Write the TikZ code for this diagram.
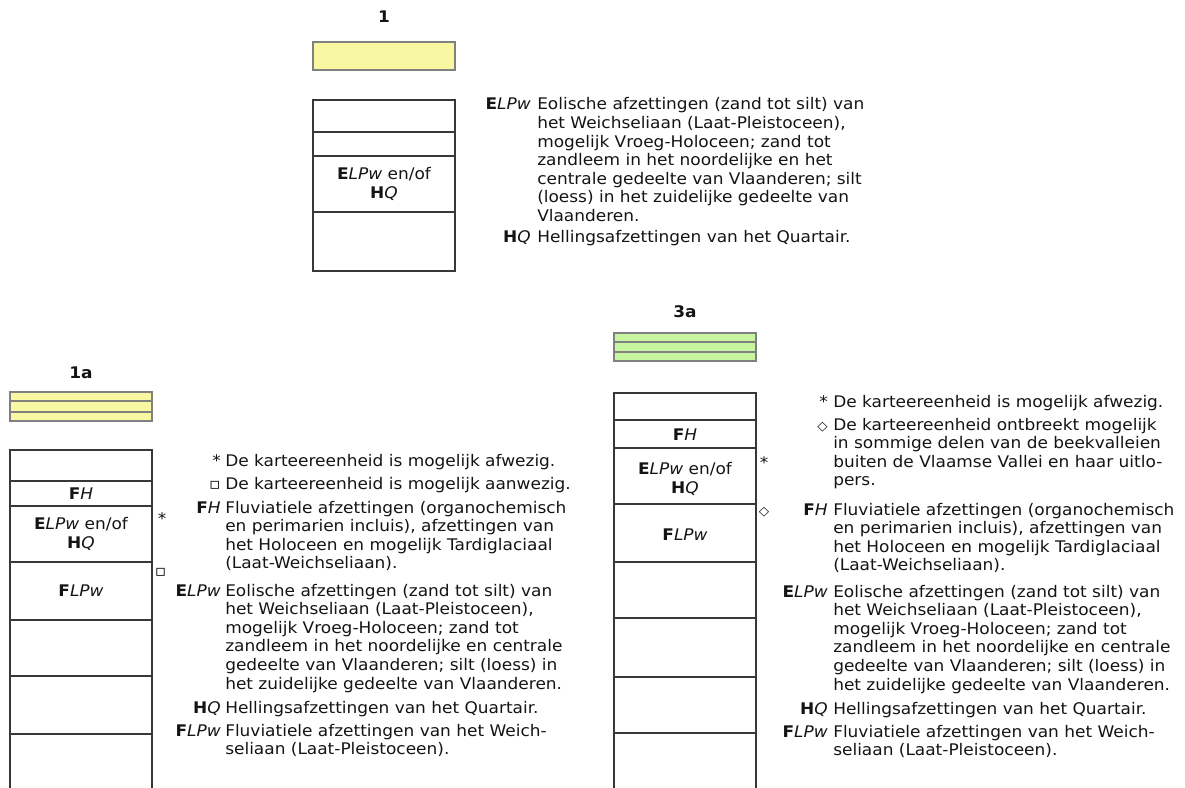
\documentclass[tikz,border=0pt]{standalone}
\usepackage{fontspec}
\setmainfont{DejaVu Sans}[FakeStretch=1.06]
\usetikzlibrary{positioning}
\definecolor{kYellow}{HTML}{F8F8A2}
\definecolor{kGreen}{HTML}{C8F5A0}
\definecolor{kLine}{HTML}{383838}
\definecolor{kEdge}{HTML}{808080}
\definecolor{kText}{HTML}{141414}
\newcommand{\legfont}{\fontsize{12}{13.95}\selectfont}
\newcommand{\ELPw}{\textbf{E}\textit{LPw}}
\newcommand{\HQ}{\textbf{H}\textit{Q}}
\newcommand{\FH}{\textbf{F}\textit{H}}
\newcommand{\FLPw}{\textbf{F}\textit{LPw}}
\newcommand{\sqkey}{▫}
\newcommand{\diakey}{{\fontsize{9.5}{9.5}\selectfont ◇}}
\newcommand{\lines}[1]{\begin{tabular}[t]{@{}l@{}}#1\end{tabular}}
\newcommand{\txtELPw}{Eolische afzettingen (zand tot silt) van\\het Weichseliaan (Laat-Pleistoceen),\\mogelijk Vroeg-Holoceen; zand tot\\zandleem in het noordelijke en centrale\\gedeelte van Vlaanderen; silt (loess) in\\het zuidelijke gedeelte van Vlaanderen.}
\newcommand{\txtFH}{Fluviatiele afzettingen (organochemisch\\en perimarien incluis), afzettingen van\\het Holoceen en mogelijk Tardiglaciaal\\(Laat-Weichseliaan).}
\newcommand{\txtHQ}{Hellingsafzettingen van het Quartair.}
\newcommand{\txtFLPw}{Fluviatiele afzettingen van het Weich-\\seliaan (Laat-Pleistoceen).}
\tikzset{
  colline/.style={draw=kLine, line width=1pt},
  barbox/.style={draw=kEdge, line width=0.9pt},
  coltitle/.style={font=\fontsize{12}{14}\selectfont\bfseries, text=kText, inner sep=0},
  celllbl/.style={align=center, font=\legfont, text=kText, inner sep=0},
  flagkey/.style={font=\legfont, text=kText, inner sep=0},
  keylbl/.style={anchor=base east, font=\legfont, text=kText, inner sep=0},
  legtxt/.style={anchor=base west, font=\legfont, text=kText, inner sep=0},
}

\begin{document}
\begin{tikzpicture}[x=0.75pt, y=-0.75pt]
  \useasboundingbox (0,0) rectangle (1185,788);

  % --- kolom 1 ---
  \node[coltitle] (t1) at (384,17) {1};
  \draw[barbox, fill=kYellow] (313,42) rectangle (455,70);
  \foreach \t/\b in {100/132, 132/156, 156/212, 212/271}
    \draw[colline] (313,\t) rectangle (455,\b);
  \node[celllbl] (c1elpw) at (384,184) {\ELPw{} en/of\\\HQ};

  \foreach \y/\k/\txt/\nm in {
     110/{\ELPw}/{Eolische afzettingen (zand tot silt) van\\het Weichseliaan (Laat-Pleistoceen),\\mogelijk Vroeg-Holoceen; zand tot\\zandleem in het noordelijke en het\\centrale gedeelte van Vlaanderen; silt\\(loess) in het zuidelijke gedeelte van\\Vlaanderen.}/elpw,
     243/{\HQ}/{\txtHQ}/hq}{
     \node[keylbl] (k1\nm) at (531,\y) {\k};
     \node[legtxt] (l1\nm) at (537,\y) {\lines{\txt}};
  }

  % --- kolom 1a ---
  \node[coltitle] (t1a) at (81,373) {1a};
  \draw[barbox, fill=kYellow] (10,392) rectangle (152,421);
  \draw[barbox] (10,401) -- (152,401) (10,412) -- (152,412);
  \foreach \t/\b in {450/481, 481/506, 506/562, 562/620, 620/676, 676/734}
    \draw[colline] (10,\t) rectangle (152,\b);
  \draw[colline] (10,734) -- (10,788) (152,734) -- (152,788);
  \node[celllbl] (c1afh) at (81,493.5) {\FH};
  \node[celllbl] (c1aelpw) at (81,534) {\ELPw{} en/of\\\HQ};
  \node[celllbl] (c1aflpw) at (81,591) {\FLPw};
  \node[flagkey] (f1astar) at (162,519) {*};
  \node[flagkey] (f1asq) at (160.5,572) {\sqkey};

  \foreach \y/\k/\txt/\nm in {
     466/{*}/{De karteereenheid is mogelijk afwezig.}/star,
     489/{\sqkey}/{De karteereenheid is mogelijk aanwezig.}/sq,
     513/{\FH}/{\txtFH}/fh,
     596/{\ELPw}/{\txtELPw}/elpw,
     713/{\HQ}/{\txtHQ}/hq,
     736/{\FLPw}/{\txtFLPw}/flpw}{
     \node[keylbl] (k1a\nm) at (221,\y) {\k};
     \node[legtxt] (l1a\nm) at (225,\y) {\lines{\txt}};
  }

  % --- kolom 3a ---
  \node[coltitle] (t3a) at (685,312) {3a};
  \draw[barbox, fill=kGreen] (614,333) rectangle (756,361);
  \draw[barbox] (614,342) -- (756,342) (614,352) -- (756,352);
  \foreach \t/\b in {393/420, 420/448, 448/504, 504/562, 562/618, 618/677, 677/733}
    \draw[colline] (614,\t) rectangle (756,\b);
  \draw[colline] (614,733) -- (614,788) (756,733) -- (756,788);
  \node[celllbl] (c3afh) at (685,435) {\FH};
  \node[celllbl] (c3aelpw) at (685,479) {\ELPw{} en/of\\\HQ};
  \node[celllbl] (c3aflpw) at (685,535) {\FLPw};
  \node[flagkey] (f3astar) at (764,463) {*};
  \node[flagkey] (f3adia) at (764,512) {\diakey};

  \foreach \y/\k/\txt/\nm in {
     407/{*}/{De karteereenheid is mogelijk afwezig.}/star,
     430/{\diakey}/{De karteereenheid ontbreekt mogelijk\\in sommige delen van de beekvalleien\\buiten de Vlaamse Vallei en haar uitlo-\\pers.}/dia,
     515/{\FH}/{\txtFH}/fh,
     597/{\ELPw}/{\txtELPw}/elpw,
     714/{\HQ}/{\txtHQ}/hq,
     737/{\FLPw}/{\txtFLPw}/flpw}{
     \node[keylbl] (k3a\nm) at (828,\y) {\k};
     \node[legtxt] (l3a\nm) at (833,\y) {\lines{\txt}};
  }
\end{tikzpicture}
\end{document}
